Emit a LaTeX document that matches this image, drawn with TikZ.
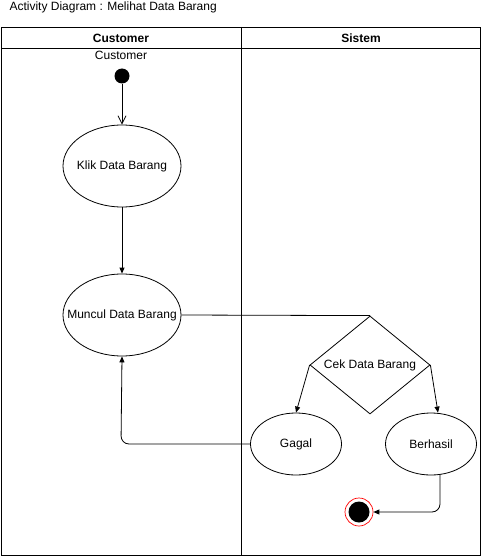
\documentclass[tikz,border=0pt]{standalone}
\usepackage{fontspec}
\setmainfont{Liberation Sans}
\usetikzlibrary{arrows.meta,shapes.geometric}
\begin{document}
\begin{tikzpicture}[x=1pt,y=-1pt,
  every node/.style={font=\fontsize{12}{14}\selectfont},
  act/.style={draw,ellipse,line width=0.8pt,minimum width=118pt,minimum height=82pt,inner sep=0pt},
  small/.style={draw,ellipse,line width=0.8pt,minimum width=91pt,minimum height=62pt,inner sep=0pt},
  flow/.style={line width=0.8pt,-{Triangle[length=6pt,width=5pt]}},
  openflow/.style={line width=0.8pt,-{Straight Barb[length=8pt,width=8pt]}},
  lane/.style={line width=0.8pt}]
\useasboundingbox (0,0) rectangle (481,556);
\node[anchor=west] (title) at (6,7) {Activity Diagram : Melihat Data Barang};
% swimlanes
\draw[lane] (1,27) rectangle (480,555);
\draw[lane] (1,48) -- (480,48);
\draw[lane] (241,27) -- (241,555);
\node[font=\fontsize{12}{14}\selectfont\bfseries] (h1) at (121,38) {Customer};
\node[font=\fontsize{12}{14}\selectfont\bfseries] (h2) at (361,38) {Sistem};
\node (cust) at (121,55) {Customer};
% nodes
\node[circle,fill=black,minimum size=15pt,inner sep=0pt] (start) at (122,76) {};
\node[act,label=center:Klik Data Barang] (klik) at (122,166) {};
\node[act,label=center:Muncul Data Barang] (muncul) at (122,315) {};
\node[draw,diamond,line width=0.8pt,minimum width=120pt,minimum height=98pt,inner sep=0pt,aspect=1.22,label=center:Cek Data Barang] (cek) at (370,365) {};
\node[small,label=center:Gagal] (gagal) at (296,444) {};
\node[small,label=center:Berhasil] (berhasil) at (431,444) {};
\node[circle,draw=red,line width=0.7pt,minimum size=28pt,inner sep=0pt] (end) at (359,512) {};
\node[circle,fill=black,minimum size=21pt,inner sep=0pt] (endin) at (359,512) {};
% connectors
\draw[openflow] (start) -- (klik);
\draw[flow] (klik) -- (muncul);
\draw[line width=0.8pt] (muncul.east) -- (cek.north);
\draw[flow] (cek.west) -- (gagal.north);
\draw[flow] (cek.east) -- (berhasil.north -| 438,0);
\draw[flow,rounded corners=8pt] (gagal.west) -- (121,444) -- (muncul.south);
\coordinate (bb) at (440,475);
\draw[flow,rounded corners=8pt] (bb) -- (440,512) -- (end.east);
\end{tikzpicture}
\end{document}
